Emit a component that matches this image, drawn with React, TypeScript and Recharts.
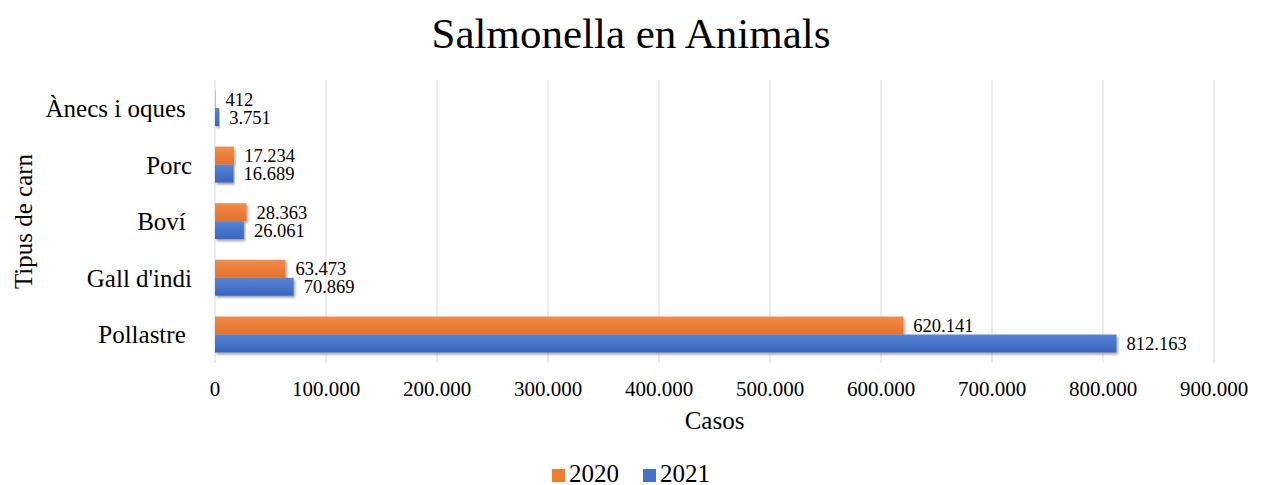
import React from "react"
import {
  BarChart,
  Bar,
  XAxis,
  YAxis,
  CartesianGrid,
  Legend,
  LabelList,
} from "recharts"

// categories, top to bottom
const CATEGORIES = ["Ànecs i oques ", "Porc", "Boví ", "Gall d'indi", "Pollastre "]
const CASES_2020 = [412, 17234, 28363, 63473, 620141]
const CASES_2021 = [3751, 16689, 26061, 70869, 812163]
const X_TICKS = [0, 100000, 200000, 300000, 400000, 500000, 600000, 700000, 800000, 900000]

const data = CATEGORIES.map((name, i) => ({
  name,
  y2020: CASES_2020[i],
  y2021: CASES_2021[i],
}))

const FONT = '"Liberation Serif", "Times New Roman", serif'
const SWATCH: Record<string, string> = { "2020": "#ED7D31", "2021": "#4472C4" }

// 812163 -> "812.163"
function fmt(v: number) {
  return String(v).replace(/\B(?=(\d{3})+(?!\d))/g, ".")
}

function CategoryTick(props: any) {
  const { x, y, payload } = props
  return (
    <text
      x={x}
      y={y}
      dy="0.35em"
      textAnchor="end"
      fontSize={25}
      fill="#000"
      fontFamily={FONT}
      style={{ whiteSpace: "pre" }}
    >
      {payload.value}
    </text>
  )
}

function LegendContent(props: any) {
  const { payload } = props
  return (
    <div style={{ display: "flex", justifyContent: "center", gap: 24, fontSize: 25, fontFamily: FONT, color: "#000" }}>
      {payload.map((p: any) => (
        <div key={p.value} style={{ display: "flex", alignItems: "center" }}>
          <span style={{ display: "inline-block", width: 13, height: 13, background: SWATCH[p.value], marginRight: 4, marginTop: 3 }} />
          <span>{p.value}</span>
        </div>
      ))}
    </div>
  )
}

export default function App() {
  return (
    <div style={{ position: "absolute", left: 0, top: 0, width: 1262, height: 485, background: "#fff", fontFamily: FONT }}>
      <div
        style={{
          position: "absolute",
          left: 0,
          top: 9,
          width: 1262,
          textAlign: "center",
          fontSize: 43,
          color: "#000",
        }}
      >
        Salmonella en Animals
      </div>
      <BarChart
        width={1262}
        height={485}
        data={data}
        layout="vertical"
        margin={{ top: 80, right: 48, bottom: 24, left: 0 }}
        barGap={0}
        barSize={18}
      >
        <defs>
          <linearGradient id="gOrange" x1="0" y1="0" x2="0" y2="1">
            <stop offset="0%" stopColor="#F28C4A" />
            <stop offset="100%" stopColor="#E5702A" />
          </linearGradient>
          <linearGradient id="gBlue" x1="0" y1="0" x2="0" y2="1">
            <stop offset="0%" stopColor="#5784D4" />
            <stop offset="100%" stopColor="#3A65BE" />
          </linearGradient>
          <filter id="shadow" x="-5%" y="-20%" width="110%" height="160%">
            <feDropShadow dx="1.5" dy="2" stdDeviation="1.2" floodColor="#000" floodOpacity="0.35" />
          </filter>
        </defs>
        <CartesianGrid horizontal={false} stroke="#d9d9d9" />
        <XAxis
          type="number"
          domain={[0, 900000]}
          ticks={X_TICKS}
          tickFormatter={fmt}
          axisLine={false}
          tickLine={false}
          tickSize={0}
          tickMargin={18}
          height={70}
          tick={{ fontSize: 21, fill: "#000", fontFamily: FONT }}
          label={{ value: "Casos", position: "insideTop", offset: 48, fontSize: 25, fill: "#000", fontFamily: FONT }}
        />
        <YAxis
          type="category"
          dataKey="name"
          width={215}
          axisLine={false}
          tickLine={false}
          tickSize={0}
          tickMargin={23}
          tick={<CategoryTick />}
          label={{
            value: "Tipus de carn",
            angle: -90,
            position: "insideLeft",
            offset: 23,
            fontSize: 25,
            fill: "#000",
            fontFamily: FONT,
            style: { textAnchor: "middle" },
          }}
        />
        <Legend
          verticalAlign="bottom"
          content={<LegendContent />}
          wrapperStyle={{ top: 460, left: 0, width: 1262 }}
        />
        <Bar dataKey="y2020" name="2020" fill="url(#gOrange)" filter="url(#shadow)" isAnimationActive={false}>
          <LabelList dataKey="y2020" position="right" offset={10} formatter={fmt} fontSize={18.5} fill="#000" fontFamily={FONT} />
        </Bar>
        <Bar dataKey="y2021" name="2021" fill="url(#gBlue)" filter="url(#shadow)" isAnimationActive={false}>
          <LabelList dataKey="y2021" position="right" offset={10} formatter={fmt} fontSize={18.5} fill="#000" fontFamily={FONT} />
        </Bar>
      </BarChart>
    </div>
  )
}
